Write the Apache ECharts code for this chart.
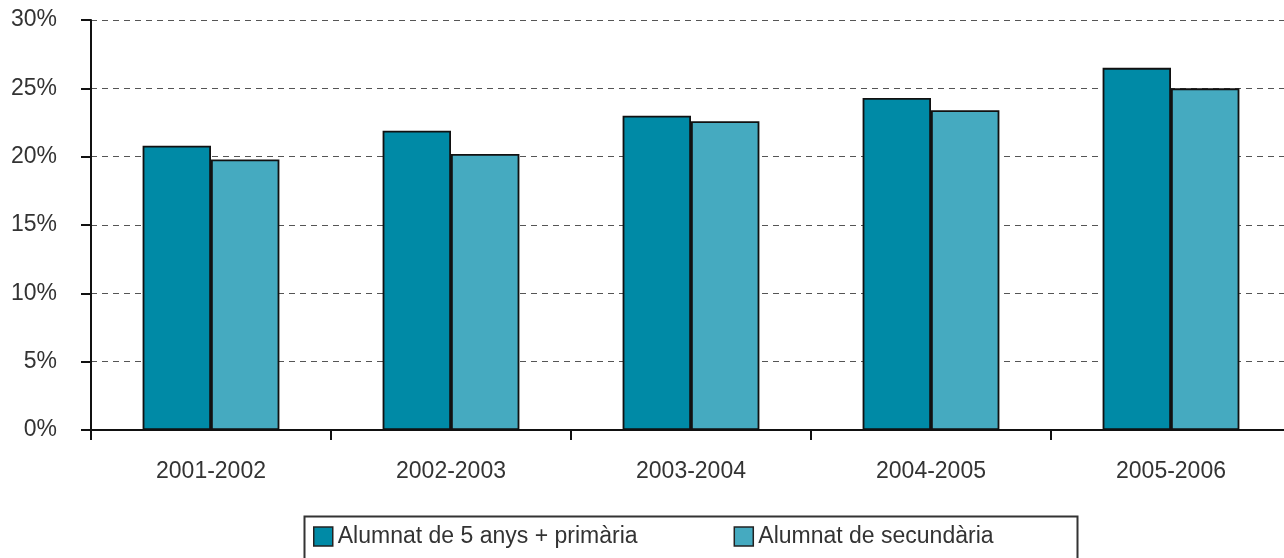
<!DOCTYPE html>
<html>
<head>
<meta charset="utf-8">
<script src="https://cdn.jsdelivr.net/npm/echarts@6/dist/echarts.min.js"></script>
<style>
  html, body { margin: 0; padding: 0; background: #fff; overflow: hidden; }
  /* the plot runs a few px past the right edge of the window */
  #chart { width: 1291px; height: 558px; }
</style>
</head>
<body>
<div id="chart"></div>
<script>
// cursos escolars
let categories = ['2001-2002', '2002-2003', '2003-2004', '2004-2005', '2005-2006']
let seriesNames = ['Alumnat de 5 anys + primària', 'Alumnat de secundària']
let primaria = [20.8, 21.9, 23.0, 24.3, 26.5]
let secundaria = [19.8, 20.2, 22.6, 23.4, 25.0]
let yTicks = [0, 5, 10, 15, 20, 25, 30]

let font = 'Liberation Sans'
let textColor = '#333'

let myChart = echarts.init(document.getElementById('chart'), null, {renderer: 'canvas'})

let barStyle = (color) => ({
  color: color,
  borderColor: '#111',
  borderWidth: 1.8
})

let option = {
  animation: false,
  grid: {left: 91, top: 20, right: 0, bottom: 128},
  legend: {
    left: 313,
    top: 525,
    padding: 0,
    itemGap: 96,
    itemWidth: 19,
    itemHeight: 19,
    icon: 'rect',
    textStyle: {fontFamily: font, fontSize: 23, color: textColor},
    data: seriesNames.map(n => ({name: n, itemStyle: {borderColor: '#222', borderWidth: 1.5}}))
  },
  graphic: [{
    type: 'rect',
    left: 302,
    top: 514,
    shape: {width: 773, height: 60},
    style: {fill: 'none', stroke: '#333', lineWidth: 2}
  }],
  xAxis: {
    type: 'category',
    data: categories,
    axisLine: {lineStyle: {color: '#111', width: 2}},
    axisTick: {show: true, length: 10, lineStyle: {color: '#111', width: 2}},
    axisLabel: {margin: 30, fontFamily: font, fontSize: 23, color: textColor}
  },
  yAxis: {
    type: 'value',
    min: yTicks[0],
    max: yTicks[yTicks.length - 1],
    interval: 5,
    axisLine: {show: true, lineStyle: {color: '#111', width: 2}},
    axisTick: {show: true, length: 10, lineStyle: {color: '#111', width: 2}},
    axisLabel: {margin: 34, fontFamily: font, fontSize: 23, color: textColor, formatter: '{value}%'},
    splitLine: {show: true, lineStyle: {color: '#555', type: [6, 5], width: 1}}
  },
  series: [
    {
      name: seriesNames[0],
      type: 'bar',
      data: primaria,
      barGap: '0%',
      barCategoryGap: '43%',
      itemStyle: barStyle('#008aa6')
    },
    {
      name: seriesNames[1],
      type: 'bar',
      data: secundaria,
      itemStyle: barStyle('#45aac0')
    }
  ]
}

myChart.setOption(option)
</script>
</body>
</html>
